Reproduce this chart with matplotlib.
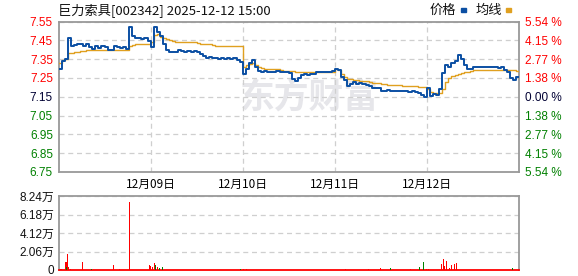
import numpy as np
import matplotlib
matplotlib.use("Agg")
import matplotlib.pyplot as plt

# ---------------- data ----------------
title = "巨力索具[002342] 2025-12-12 15:00"
prev_close = 7.15
day_labels = ["12月09日", "12月10日", "12月11日", "12月12日"]
price_ticks = [7.55, 7.45, 7.35, 7.25, 7.15, 7.05, 6.95, 6.85, 6.75]
pct_labels = ["5.54 %", "4.15 %", "2.77 %", "1.38 %", "0.00 %", "1.38 %", "2.77 %", "4.15 %", "5.54 %"]
vol_ticks = [0, 2.06, 4.12, 6.18, 8.24]
vol_tick_labels = ["0", "2.06万", "4.12万", "6.18万", "8.24万"]

# price sampled every 8 minutes (30 samples per 240-minute trading day)
price_d1 = [7.30, 7.34, 7.35, 7.46, 7.42, 7.425, 7.43, 7.43, 7.42, 7.43,
            7.415, 7.405, 7.42, 7.41, 7.42, 7.415, 7.40, 7.40, 7.42, 7.415,
            7.41, 7.415, 7.405, 7.52, 7.475, 7.46, 7.46, 7.455, 7.46, 7.445]
price_d2 = [7.415, 7.52, 7.495, 7.475, 7.43, 7.40, 7.39, 7.39, 7.39, 7.40,
            7.395, 7.39, 7.395, 7.39, 7.395, 7.39, 7.375, 7.365, 7.355, 7.36,
            7.355, 7.355, 7.35, 7.355, 7.35, 7.355, 7.35, 7.355, 7.345, 7.335]
price_d3 = [7.27, 7.30, 7.33, 7.345, 7.31, 7.285, 7.28, 7.285, 7.28, 7.28,
            7.28, 7.285, 7.28, 7.28, 7.28, 7.275, 7.245, 7.235, 7.25, 7.265,
            7.27, 7.265, 7.27, 7.27, 7.28, 7.28, 7.28, 7.28, 7.28, 7.285]
price_d4 = [7.30, 7.29, 7.257, 7.24, 7.205, 7.22, 7.23, 7.22, 7.225, 7.218,
            7.21, 7.205, 7.195, 7.195, 7.195, 7.183, 7.18, 7.185, 7.178, 7.178,
            7.18, 7.178, 7.183, 7.178, 7.173, 7.178, 7.173, 7.17, 7.16, 7.148]
price_d5 = [7.195, 7.155, 7.165, 7.16, 7.19, 7.275, 7.32, 7.31, 7.33, 7.34,
            7.37, 7.35, 7.32, 7.295, 7.30, 7.31, 7.306, 7.31, 7.306, 7.31,
            7.306, 7.31, 7.306, 7.305, 7.306, 7.29, 7.28, 7.25, 7.24, 7.255]

avg_d1 = [7.33, 7.345, 7.35, 7.38, 7.385, 7.39, 7.39, 7.392, 7.395, 7.396,
          7.40, 7.40, 7.40, 7.40, 7.40, 7.40, 7.40, 7.40, 7.40, 7.40,
          7.40, 7.40, 7.40, 7.42, 7.425, 7.428, 7.428, 7.428, 7.43, 7.43]
avg_d2 = [7.44, 7.48, 7.485, 7.47, 7.46, 7.455, 7.45, 7.445, 7.44, 7.44,
          7.44, 7.44, 7.44, 7.44, 7.44, 7.435, 7.432, 7.43, 7.43, 7.428,
          7.425, 7.422, 7.42, 7.418, 7.418, 7.418, 7.418, 7.418, 7.418, 7.418]
avg_d3 = [7.31, 7.32, 7.325, 7.33, 7.32, 7.31, 7.305, 7.30, 7.30, 7.30,
          7.30, 7.295, 7.29, 7.288, 7.288, 7.288, 7.288, 7.28, 7.28, 7.28,
          7.28, 7.28, 7.28, 7.28, 7.28, 7.28, 7.28, 7.28, 7.28, 7.28]
avg_d4 = [7.30, 7.29, 7.27, 7.255, 7.245, 7.243, 7.24, 7.237, 7.235, 7.233,
          7.232, 7.228, 7.225, 7.223, 7.222, 7.22, 7.218, 7.215, 7.213, 7.212,
          7.21, 7.21, 7.208, 7.207, 7.206, 7.205, 7.205, 7.204, 7.203, 7.202]
avg_d5 = [7.19, 7.175, 7.17, 7.168, 7.17, 7.19, 7.23, 7.25, 7.26, 7.268,
          7.272, 7.278, 7.28, 7.283, 7.285, 7.29, 7.29, 7.29, 7.29, 7.29,
          7.29, 7.29, 7.29, 7.29, 7.29, 7.29, 7.29, 7.29, 7.29, 7.289]

# notable volume bars (minute of the 5-day session, volume in 万, up=1 red / 0 green)
vol_minute = [1, 5, 9, 17, 20, 21, 24, 26, 30, 62, 86, 143, 160, 186,
              236, 238, 241, 244, 250, 254, 257, 262, 270, 473, 481, 489,
              747, 809, 838, 840, 866, 916, 942, 951, 958, 963,
              997, 1002, 1005, 1012, 1018, 1023, 1031, 1038, 1183]
vol_value = [0.2, 0.1, 0.1, 0.9, 0.9, 0.3, 1.78, 0.3, 0.15, 0.92, 0.12, 0.56, 0.1, 7.6,
             0.55, 0.55, 0.4, 0.35, 0.75, 0.6, 0.3, 0.2, 0.3, 0.15, 0.12, 0.12,
             0.15, 0.15, 0.2, 0.2, 0.2, 0.15, 0.3, 0.89, 0.15, 0.15,
             0.67, 1.22, 0.4, 1.0, 0.2, 0.56, 0.67, 0.78, 0.22]
vol_up = [1, 1, 1, 1, 1, 0, 1, 1, 1, 1, 0, 1, 1, 1,
          1, 1, 1, 1, 1, 0, 1, 0, 0, 0, 1, 1,
          1, 1, 1, 1, 0, 1, 0, 0, 1, 1,
          1, 1, 1, 1, 1, 1, 1, 1, 0]

# ---------------- figure ----------------
plt.rcParams['font.family'] = ['Liberation Sans', 'Noto Sans CJK SC', 'DejaVu Sans']
W, H = 578, 276
fig = plt.figure(figsize=(W / 100, H / 100), dpi=100)
fig.patch.set_facecolor('white')

L, R = 58.5, 519.0
def fx(px): return px / W
def fy(py): return 1 - py / H

ax = fig.add_axes([fx(L), fy(172), fx(R - L), (172 - 21.5) / H])
axv = fig.add_axes([fx(L), fy(270), fx(R - L), (270 - 196) / H])

price = np.array(price_d1 + price_d2 + price_d3 + price_d4 + price_d5)
avg = np.array(avg_d1 + avg_d2 + avg_d3 + avg_d4 + avg_d5)
step = 8
n_days = 5
day_len = 240
t = np.arange(len(price)) * step
t_ext = np.append(t, n_days * day_len)
price_ext = np.append(price, price[-1])
avg_ext = np.append(avg, avg[-1])

red, green = '#ff0000', '#008000'
blue, orange = '#0b4fa3', '#e0a020'
grid_c = '#cfcfcf'
spine_c = '#999999'

# watermark
ax.text(0.545, 0.5, "东方财富", transform=ax.transAxes, fontsize=25, fontweight='bold',
        color='#e6e6ea', ha='center', va='center', zorder=0,
        family=['Noto Sans CJK SC'])

ax.plot(t_ext, avg_ext, color=orange, lw=1.0, drawstyle='steps-post', zorder=3)
ax.plot(t_ext, price_ext, color=blue, lw=1.4, drawstyle='steps-post', zorder=4)

ax.set_xlim(0, n_days * day_len)
ax.set_ylim(6.75, 7.55)
ax.set_yticks(price_ticks)
ax.set_yticklabels([f"{v:.2f}" for v in price_ticks])
for lbl, v in zip(ax.get_yticklabels(), price_ticks):
    lbl.set_color(red if v > prev_close + 1e-9 else (green if v < prev_close - 1e-9 else '#000033'))
day_bounds = [day_len * k for k in range(1, n_days)]
ax.set_xticks(day_bounds)
ax.set_xticklabels(day_labels)
ax.tick_params(axis='both', length=0, labelsize=8.5)
ax.tick_params(axis='y', pad=4)
ax.tick_params(axis='x', pad=4)
for lbl in ax.get_xticklabels():
    lbl.set_family(['Noto Sans CJK SC'])
    lbl.set_fontsize(8.5)
ax.grid(True, axis='both', color=grid_c, ls=(0, (4, 3)), lw=0.9)
for s in ax.spines.values():
    s.set_color(spine_c)
    s.set_linewidth(1.3)

axr = ax.twinx()
axr.set_ylim(6.75, 7.55)
axr.set_yticks(price_ticks)
axr.set_yticklabels(pct_labels)
for lbl, v in zip(axr.get_yticklabels(), price_ticks):
    lbl.set_color(red if v > prev_close + 1e-9 else (green if v < prev_close - 1e-9 else '#000033'))
axr.tick_params(axis='y', length=0, labelsize=8.5, pad=4)
for s in axr.spines.values():
    s.set_visible(False)

# volume
colors = [red if u else green for u in vol_up]
axv.bar(vol_minute, vol_value, width=2.6, color=colors, linewidth=0, zorder=3,
        antialiased=False)
axv.set_xlim(0, n_days * day_len)
axv.set_ylim(0, 8.24)
axv.set_yticks(vol_ticks)
axv.set_yticklabels(vol_tick_labels)
axv.set_xticks([])
axv.tick_params(axis='y', length=0, labelsize=8.5, pad=3, colors='#111111')
axv.grid(True, axis='y', color=grid_c, ls=(0, (4, 3)), lw=0.9)
for s in axv.spines.values():
    s.set_color(spine_c)
    s.set_linewidth(1.3)
axv.spines['bottom'].set_color(red)

# title & legend
fig.text(fx(58), fy(10), title, fontsize=9.5, ha='left', va='center',
         family=['Noto Sans CJK SC'], color='#111111')
fig.text(fx(443), fy(10), "价格", fontsize=9.5, ha='center', va='center',
         family=['Noto Sans CJK SC'], color='#111111')
fig.patches.append(plt.Rectangle((fx(461), fy(11.5)), fx(5), 3 / H, color=blue,
                                 transform=fig.transFigure, figure=fig))
fig.text(fx(489), fy(10), "均线", fontsize=9.5, ha='center', va='center',
         family=['Noto Sans CJK SC'], color='#111111')
fig.patches.append(plt.Rectangle((fx(506), fy(11.5)), fx(5), 3 / H, color=orange,
                                 transform=fig.transFigure, figure=fig))

fig.savefig("out.png", dpi=100)
